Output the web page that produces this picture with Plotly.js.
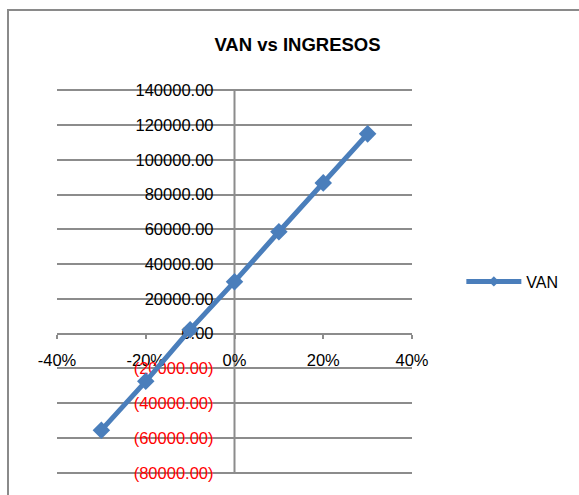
<!DOCTYPE html>
<html>
<head>
<meta charset="utf-8">
<script src="https://cdn.plot.ly/plotly-3.0.1.min.js"></script>
<style>
  html, body { margin: 0; padding: 0; background: #ffffff; overflow: hidden; }
  #frame { position: absolute; left: 7px; top: 9px; width: 700px; height: 600px;
           border-left: 2px solid #8a8a8a; border-top: 2px solid #8a8a8a; }
  #chart { position: absolute; left: 0; top: 0; width: 579px; height: 495px; }
</style>
</head>
<body>
<div id="frame"></div>
<div id="chart"></div>
<script>
// ---- data ----
const ingresos = [-0.30, -0.20, -0.10, 0.00, 0.10, 0.20, 0.30];
const van = [-55500, -27400, 2300, 29900, 58600, 86700, 114900];
const seriesName = 'VAN';
const chartTitle = 'VAN vs INGRESOS';
const xTickVals = [-0.4, -0.2, 0, 0.2, 0.4];
const xTickText = ['-40%', '-20%', '0%', '20%', '40%'];
const yTickVals = [140000, 120000, 100000, 80000, 60000, 40000, 20000, 0, -20000, -40000, -60000, -80000];
const yMin = -80000, yMax = 140000;

function fmtY(v) {
  const s = Math.abs(v).toFixed(2);
  return v < 0 ? '<span style="color:#ff0000">(' + s + ')</span>' : s;
}
const yTickText = yTickVals.map(fmtY);

const blue = '#4a7ebb';
const gridGray = '#8c8c8c';
const font = 'Liberation Sans, Arial, sans-serif';
// small padding so the outermost gridlines are not dropped at the range ends
const yPad = 700;

const traces = [
  {
    x: ingresos, y: van, type: 'scatter', mode: 'lines+markers',
    name: seriesName, showlegend: false,
    line: { color: blue, width: 5 },
    marker: { symbol: 'diamond', size: 13.5, color: blue },
    cliponaxis: false
  },
  {
    x: [null], y: [null], type: 'scatter', mode: 'lines+markers',
    name: seriesName, showlegend: true,
    line: { color: blue, width: 5 },
    marker: { symbol: 'diamond', size: 8, color: blue }
  }
];

const layout = {
  width: 579, height: 495,
  paper_bgcolor: 'rgba(0,0,0,0)',
  plot_bgcolor: 'rgba(0,0,0,0)',
  margin: { l: 57, r: 167, t: 89, b: 21, pad: 0 },
  font: { family: font, size: 16.5, color: '#000000' },
  title: {
    text: '<b>' + chartTitle + '</b>',
    font: { family: font, size: 18.5, color: '#000000' },
    xref: 'container', yref: 'container',
    x: 0.5138, y: 0.910, xanchor: 'center', yanchor: 'middle'
  },
  showlegend: true,
  legend: {
    x: 1.139, y: 0.5, xanchor: 'left', yanchor: 'middle',
    itemwidth: 55,
    font: { family: font, size: 16, color: '#000000' },
    bgcolor: 'rgba(0,0,0,0)', borderwidth: 0
  },
  xaxis: {
    range: [-0.4, 0.4],
    anchor: 'free', position: (0 - (yMin - yPad)) / ((yMax + yPad) - (yMin - yPad)),
    tickvals: xTickVals, ticktext: xTickText,
    showgrid: false, zeroline: false,
    showline: true, linecolor: gridGray, linewidth: 2,
    ticks: 'outside', ticklen: 4, tickwidth: 2, tickcolor: gridGray,
    ticklabelstandoff: 8,
    tickfont: { family: font, size: 16.5, color: '#000000' },
    layer: 'below traces', fixedrange: true
  },
  yaxis: {
    range: [yMin - yPad, yMax + yPad],
    anchor: 'free', position: 0.5,
    tickvals: yTickVals, ticktext: yTickText,
    showgrid: true, gridcolor: gridGray, gridwidth: 2,
    zeroline: false,
    showline: false,
    ticks: '', ticklabelstandoff: 21,
    tickfont: { family: font, size: 16.5, color: '#000000' },
    layer: 'below traces', fixedrange: true
  },
  shapes: [
    { type: 'line', xref: 'x', yref: 'y', x0: 0, x1: 0, y0: yMin, y1: yMax,
      line: { color: gridGray, width: 2 }, layer: 'below' }
  ]
};

Plotly.newPlot('chart', traces, layout, { displayModeBar: false, staticPlot: true });
</script>
</body>
</html>
